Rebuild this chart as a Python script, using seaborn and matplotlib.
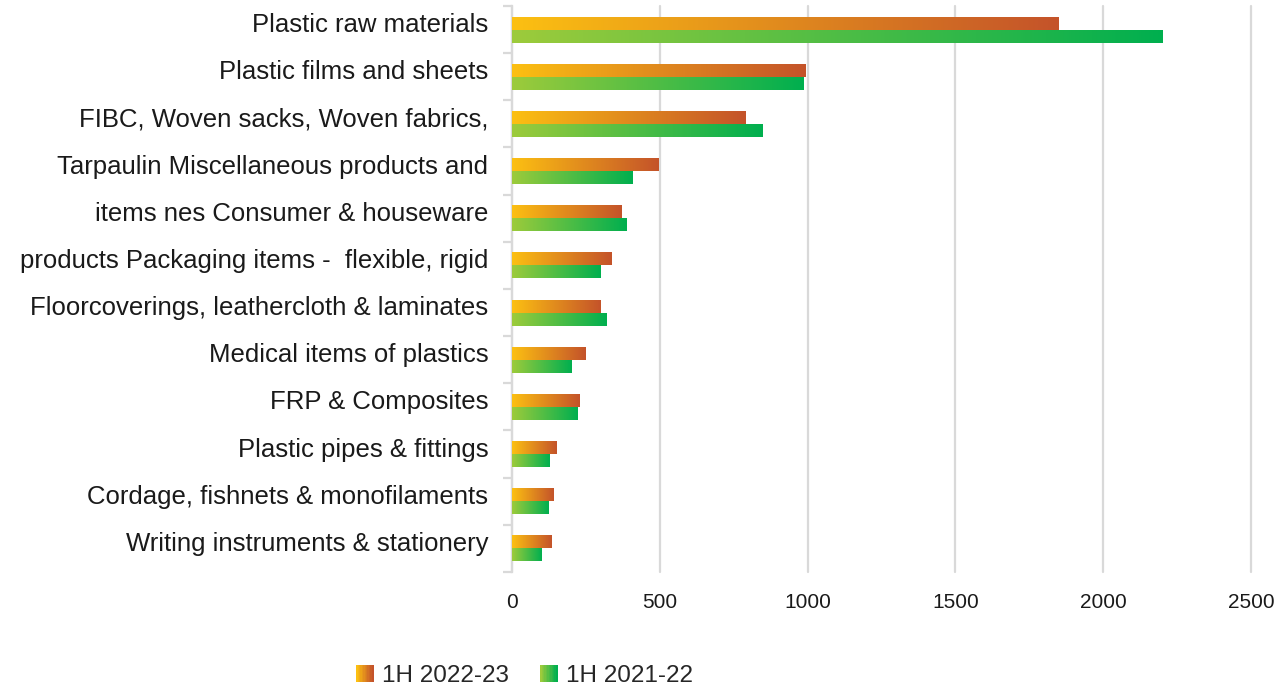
import numpy as np
import pandas as pd
import matplotlib
matplotlib.use("Agg")
import matplotlib.pyplot as plt
import matplotlib.transforms as mtransforms
import seaborn as sns
from matplotlib.colors import LinearSegmentedColormap
from matplotlib.patches import Rectangle
from matplotlib.legend_handler import HandlerBase

categories = [
    "Plastic raw materials",
    "Plastic films and sheets",
    "FIBC, Woven sacks, Woven fabrics,",
    "Tarpaulin Miscellaneous products and",
    "items nes Consumer & houseware",
    "products Packaging items -  flexible, rigid",
    "Floorcoverings, leathercloth & laminates",
    "Medical items of plastics",
    "FRP & Composites",
    "Plastic pipes & fittings",
    "Cordage, fishnets & monofilaments",
    "Writing instruments & stationery",
]
series = ["1H 2022-23", "1H 2021-22"]
vals_2223 = [1850, 993, 789, 497, 372, 335, 298, 247, 227, 152, 139, 135]
vals_2122 = [2202, 985, 849, 407, 389, 298, 318, 200, 220, 128, 125, 101]

cmaps = {
    "1H 2022-23": LinearSegmentedColormap.from_list("og", ["#FCC012", "#C4532A"]),
    "1H 2021-22": LinearSegmentedColormap.from_list("gr", ["#9DCB3B", "#00AF4F"]),
}

df = pd.DataFrame({
    "category": categories * 2,
    "value": vals_2223 + vals_2122,
    "series": [series[0]] * len(categories) + [series[1]] * len(categories),
})

sns.set_style("white")
plt.rcParams["font.family"] = ["Liberation Sans", "DejaVu Sans"]

fig = plt.figure(figsize=(12.74, 6.87), dpi=100)
ax = fig.add_axes([0.4019, 0.1674, 0.5801, 0.8239])

sns.barplot(data=df, x="value", y="category", hue="series", order=categories,
            hue_order=series, width=0.55, orient="h", ax=ax, legend=False,
            palette=["#E08A1E", "#4CBB45"], linewidth=0, saturation=1)

# paint each bar with a left-to-right gradient
grad = np.linspace(0, 1, 256).reshape(1, -1)
for cont, name in zip(ax.containers, series):
    for bar in cont:
        x0, y0 = bar.get_x(), bar.get_y()
        w, h = bar.get_width(), bar.get_height()
        im = ax.imshow(grad, cmap=cmaps[name], aspect="auto",
                       extent=[x0, x0 + w, y0 + h, y0], zorder=3,
                       interpolation="bicubic")
        im.set_clip_path(bar)
        bar.set_alpha(0)

ax.set_xlim(0, 2500)
ax.set_ylim(len(categories) - 0.5, -0.5)
ax.set_xticks([0, 500, 1000, 1500, 2000, 2500])
ax.set_xlabel("")
ax.set_ylabel("")
ax.grid(axis="x", color="#D9D9D9", linewidth=1.6, zorder=0)
ax.grid(axis="y", visible=False)
ax.set_axisbelow(True)
for gl in ax.get_xgridlines():
    gl.set_clip_on(False)

for s in ["top", "right", "bottom"]:
    ax.spines[s].set_visible(False)
ax.spines["left"].set_color("#D9D9D9")
ax.spines["left"].set_linewidth(1.6)

ax.tick_params(axis="y", which="major", left=False, length=0, pad=17,
               labelsize=18.5, labelcolor="#1a1a1a")
ax.set_yticks(np.arange(-0.5, len(categories)), minor=True)
ax.tick_params(axis="y", which="minor", left=True, length=6.5, width=1.6,
               color="#D9D9D9")
ax.tick_params(axis="x", length=0, pad=15, labelsize=15, labelcolor="#1a1a1a")

# category labels sit a little above the bar pair centre
shift = mtransforms.ScaledTranslation(0, 7 / 100, fig.dpi_scale_trans)
for lab in ax.get_yticklabels():
    lab.set_transform(lab.get_transform() + shift)


class GradientHandler(HandlerBase):
    def __init__(self, cmap):
        super().__init__()
        self.cmap = cmap

    def create_artists(self, legend, orig_handle, xdescent, ydescent,
                       width, height, fontsize, trans):
        size = height * 1.0
        x0 = -xdescent + width - size
        y0 = -ydescent + (height - size) / 2
        n = 12
        arts = []
        for i in range(n):
            r = Rectangle((x0 + i * size / n, y0), size / n + 0.3, size,
                          facecolor=self.cmap(i / (n - 1)), edgecolor="none",
                          transform=trans)
            arts.append(r)
        return arts


handles = [Rectangle((0, 0), 1, 1) for _ in series]
fig.legend(handles, series, loc="center", bbox_to_anchor=(522 / 1274, 1 - 676 / 687),
           ncol=2, frameon=False, fontsize=17.5, handlelength=0.9,
           handletextpad=0.35, columnspacing=1.1,
           handler_map={h: GradientHandler(cmaps[n]) for h, n in zip(handles, series)})

fig.savefig("out.png", dpi=100)
